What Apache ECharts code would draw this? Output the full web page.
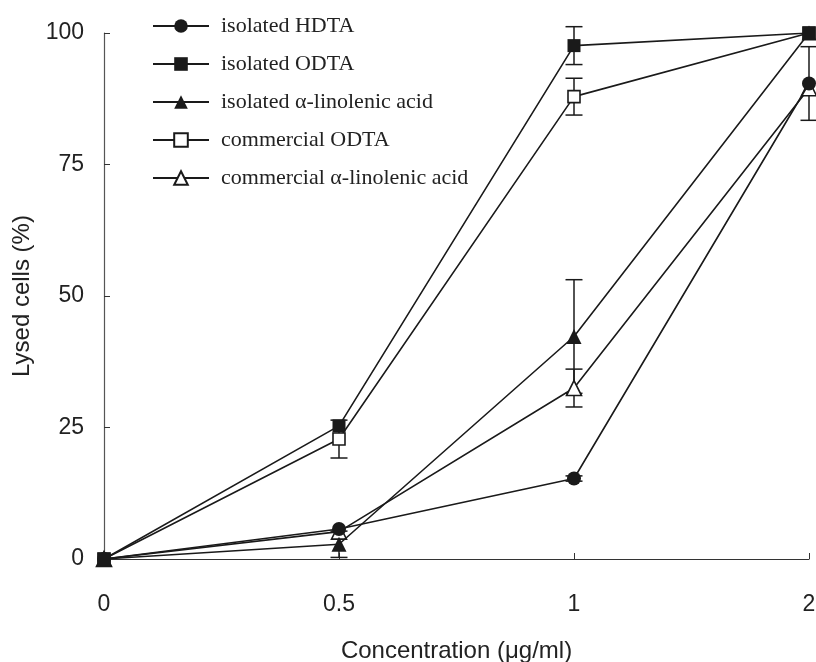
<!DOCTYPE html>
<html>
<head>
<meta charset="utf-8">
<script src="https://cdn.jsdelivr.net/npm/echarts@6/dist/echarts.min.js"></script>
<style>html,body{margin:0;padding:0;background:#fff;}#c{width:816px;height:662px;}</style>
</head>
<body>
<div id="c"></div>
<script>
const categories = ['0', '0.5', '1', '2'];
const yTicks = [0, 25, 50, 75, 100];

const hdtaIso = [0, 5.7, 15.3, 90.4];
const hdtaIsoErr = [0, 0, 0.5, 7];
const odtaIso = [0, 25.3, 97.6, 100];
const odtaIsoErr = [0, 0, 3.6, 0];
const alaIso = [0, 2.8, 42.3, 100];
const alaIsoErr = [0, 2.5, 10.8, 0];
const odtaCom = [0, 22.8, 87.9, 100];
const odtaComErr = [0, 3.6, 3.5, 0];
const alaCom = [0, 5.2, 32.5, 89.5];
const alaComErr = [0, 0, 3.6, 0];

const seriesDefs = [
  {name: 'isolated HDTA', data: hdtaIso, err: hdtaIsoErr, symbol: 'circle', size: 14, fill: '#1a1a1a', z: 8},
  {name: 'isolated ODTA', data: odtaIso, err: odtaIsoErr, symbol: 'rect', size: 13, fill: '#1a1a1a', z: 9},
  {name: 'isolated α-linolenic acid', data: alaIso, err: alaIsoErr, symbol: 'triangle', size: 15, fill: '#1a1a1a', z: 7},
  {name: 'commercial ODTA', data: odtaCom, err: odtaComErr, symbol: 'rect', size: 12, fill: '#ffffff', z: 6},
  {name: 'commercial α-linolenic acid', data: alaCom, err: alaComErr, symbol: 'triangle', size: 15, fill: '#ffffff', z: 5}
];

const ink = '#1a1a1a';
const series = [];
seriesDefs.forEach(function (s) {
  const errData = s.data.map(function (v, i) { return [i, v, s.err[i]]; }).filter(function (d) { return d[2] > 0; });
  series.push({
    type: 'custom',
    name: s.name + ' err',
    data: errData,
    z: 1,
    silent: true,
    renderItem: function (params, api) {
      const x = api.value(0), v = api.value(1), e = api.value(2);
      const top = api.coord([x, v + e]);
      const bot = api.coord([x, v - e]);
      const hw = 8.5;
      const st = {stroke: ink, lineWidth: 1.5};
      return {type: 'group', children: [
        {type: 'line', shape: {x1: top[0], y1: top[1], x2: bot[0], y2: bot[1]}, style: st},
        {type: 'line', shape: {x1: top[0] - hw, y1: top[1], x2: top[0] + hw, y2: top[1]}, style: st},
        {type: 'line', shape: {x1: bot[0] - hw, y1: bot[1], x2: bot[0] + hw, y2: bot[1]}, style: st}
      ]};
    }
  });
  series.push({
    type: 'line',
    name: s.name,
    data: s.data,
    z: s.z,
    symbol: s.symbol,
    symbolSize: s.size,
    showAllSymbol: true,
    lineStyle: {color: ink, width: 1.6},
    itemStyle: {color: s.fill, borderColor: ink, borderWidth: s.fill === '#ffffff' ? 1.6 : 0},
    emphasis: {disabled: true}
  });
});

const chart = echarts.init(document.getElementById('c'));
chart.setOption({
  animation: false,
  backgroundColor: '#fff',
  grid: {left: 104, right: 7, top: 33, bottom: 103, containLabel: false, outerBoundsMode: 'none'},
  legend: {
    orient: 'vertical',
    left: 152,
    top: 15,
    padding: 0,
    itemWidth: 56,
    itemHeight: 17,
    itemGap: 16,
    data: seriesDefs.map(function (s) { return s.name; }),
    textStyle: {fontFamily: 'Liberation Serif', fontSize: 22, color: '#222', lineHeight: 21, padding: [0, 0, 0, 7]}
  },
  xAxis: {
    type: 'category',
    data: categories,
    boundaryGap: false,
    name: 'Concentration (μg/ml)',
    nameLocation: 'middle',
    nameGap: 80,
    nameTextStyle: {fontFamily: 'Liberation Sans', fontSize: 24, color: '#222'},
    axisLine: {lineStyle: {color: '#333', width: 1.2}},
    axisTick: {inside: true, length: 6, alignWithLabel: true, lineStyle: {color: '#333'}},
    axisLabel: {fontFamily: 'Liberation Sans', fontSize: 23, color: '#222', margin: 34},
    splitLine: {show: false}
  },
  yAxis: {
    type: 'value',
    min: yTicks[0],
    max: yTicks[yTicks.length - 1],
    interval: 25,
    name: 'Lysed cells (%)',
    nameLocation: 'middle',
    nameGap: 60,
    nameTextStyle: {fontFamily: 'Liberation Sans', fontSize: 24, color: '#222'},
    axisLine: {show: true, lineStyle: {color: '#555', width: 1.2}},
    axisTick: {show: true, inside: true, length: 6, lineStyle: {color: '#333'}},
    axisLabel: {fontFamily: 'Liberation Sans', fontSize: 23, color: '#222', margin: 20},
    splitLine: {show: false}
  },
  series: series
});
</script>
</body>
</html>
